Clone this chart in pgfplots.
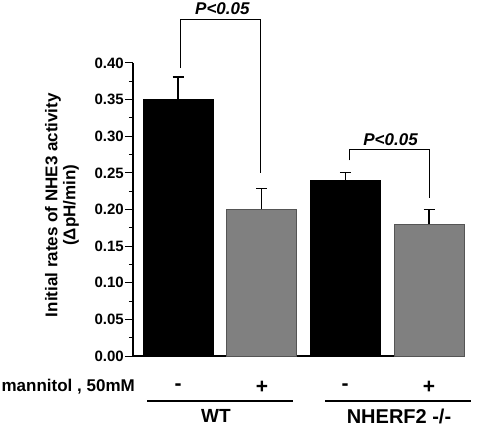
\documentclass[border=0pt]{standalone}
\usepackage{fontspec}
\setmainfont{Liberation Sans}
\usepackage{pgfplots}
\pgfplotsset{compat=1.18}
\definecolor{bargray}{HTML}{808080}
\definecolor{edgegray}{HTML}{555555}
\begin{document}
\begin{tikzpicture}
\useasboundingbox (-133bp,-73bp) rectangle (344bp,356bp);
\begin{axis}[
  at={(0,0)}, anchor=south west,
  scale only axis, width=332bp, height=293bp,
  xmin=-0.538, xmax=3.43, ymin=0, ymax=0.40,
  axis x line=bottom, axis y line=left,
  axis line style={-, line width=1.1bp},
  xtick=\empty,
  ytick={0,0.05,...,0.401},
  minor y tick num=1,
  tick align=outside,
  major tick length=8bp, minor tick length=4bp,
  tick style={line width=1bp, black},
  /pgf/number format/assume math mode=true,
  yticklabel style={font=\fontsize{15bp}{16bp}\selectfont\bfseries, /pgf/number format/fixed, /pgf/number format/fixed zerofill, /pgf/number format/precision=2, inner sep=1bp},
  scaled y ticks=false,
  ylabel={Initial rates of NHE3 activity\\(ΔpH/min)},
  ylabel style={at={(axis description cs:-0.214,0.515)}, anchor=center, align=center, font=\fontsize{17bp}{18bp}\selectfont\bfseries},
  clip=false,
  ybar, bar width=70bp, bar shift=0pt,
  error bars/y dir=plus, error bars/y explicit,
  error bars/error mark options={mark size=5.5bp, line width=1.2bp, black, rotate=90},
  error bars/error bar style={line width=1.2bp, black},
]
\addplot[fill=black, draw=black, line width=0.6bp] coordinates {(0,0.35) +- (0,0.031) (2,0.24) +- (0,0.01)};
\addplot[fill=bargray, draw=edgegray, line width=0.9bp] coordinates {(1,0.20) +- (0,0.029) (3,0.18) +- (0,0.02)};
% significance brackets
\draw[line width=1bp] (axis cs:0.024,0.393) -- (axis cs:0.024,0.46) -- (axis cs:0.98,0.46) -- (axis cs:0.98,0.25);
\node[font=\fontsize{17bp}{18bp}\selectfont\bfseries\itshape] at (axis cs:0.53,0.474) {P<0.05};
\draw[line width=1bp] (axis cs:2.05,0.267) -- (axis cs:2.05,0.282) -- (axis cs:3.0,0.282) -- (axis cs:3.0,0.216);
\node[font=\fontsize{17bp}{18bp}\selectfont\bfseries\itshape] at (axis cs:2.54,0.296) {P<0.05};
\end{axis}
% labels below axis
\begin{scope}[every node/.style={font=\fontsize{17bp}{18bp}\selectfont\bfseries, inner sep=0pt}]
\node[anchor=east] at (2bp,-31bp) {mannitol , 50mM};
\node[font=\fontsize{21bp}{22bp}\selectfont\bfseries] at (45bp,-31bp) {-};
\node[font=\fontsize{21bp}{22bp}\selectfont\bfseries] at (129bp,-31bp) {+};
\node[font=\fontsize{21bp}{22bp}\selectfont\bfseries] at (212bp,-31bp) {-};
\node[font=\fontsize{21bp}{22bp}\selectfont\bfseries] at (296bp,-31bp) {+};
\draw[line width=1.1bp] (14bp,-45bp) -- (160bp,-45bp);
\draw[line width=1.1bp] (192bp,-45bp) -- (338bp,-45bp);
\node[font=\fontsize{19bp}{20bp}\selectfont\bfseries] at (83bp,-60bp) {WT};
\node[font=\fontsize{20bp}{21bp}\selectfont\bfseries] at (266bp,-60bp) {NHERF2 -/-};
\end{scope}
\end{tikzpicture}
\end{document}
